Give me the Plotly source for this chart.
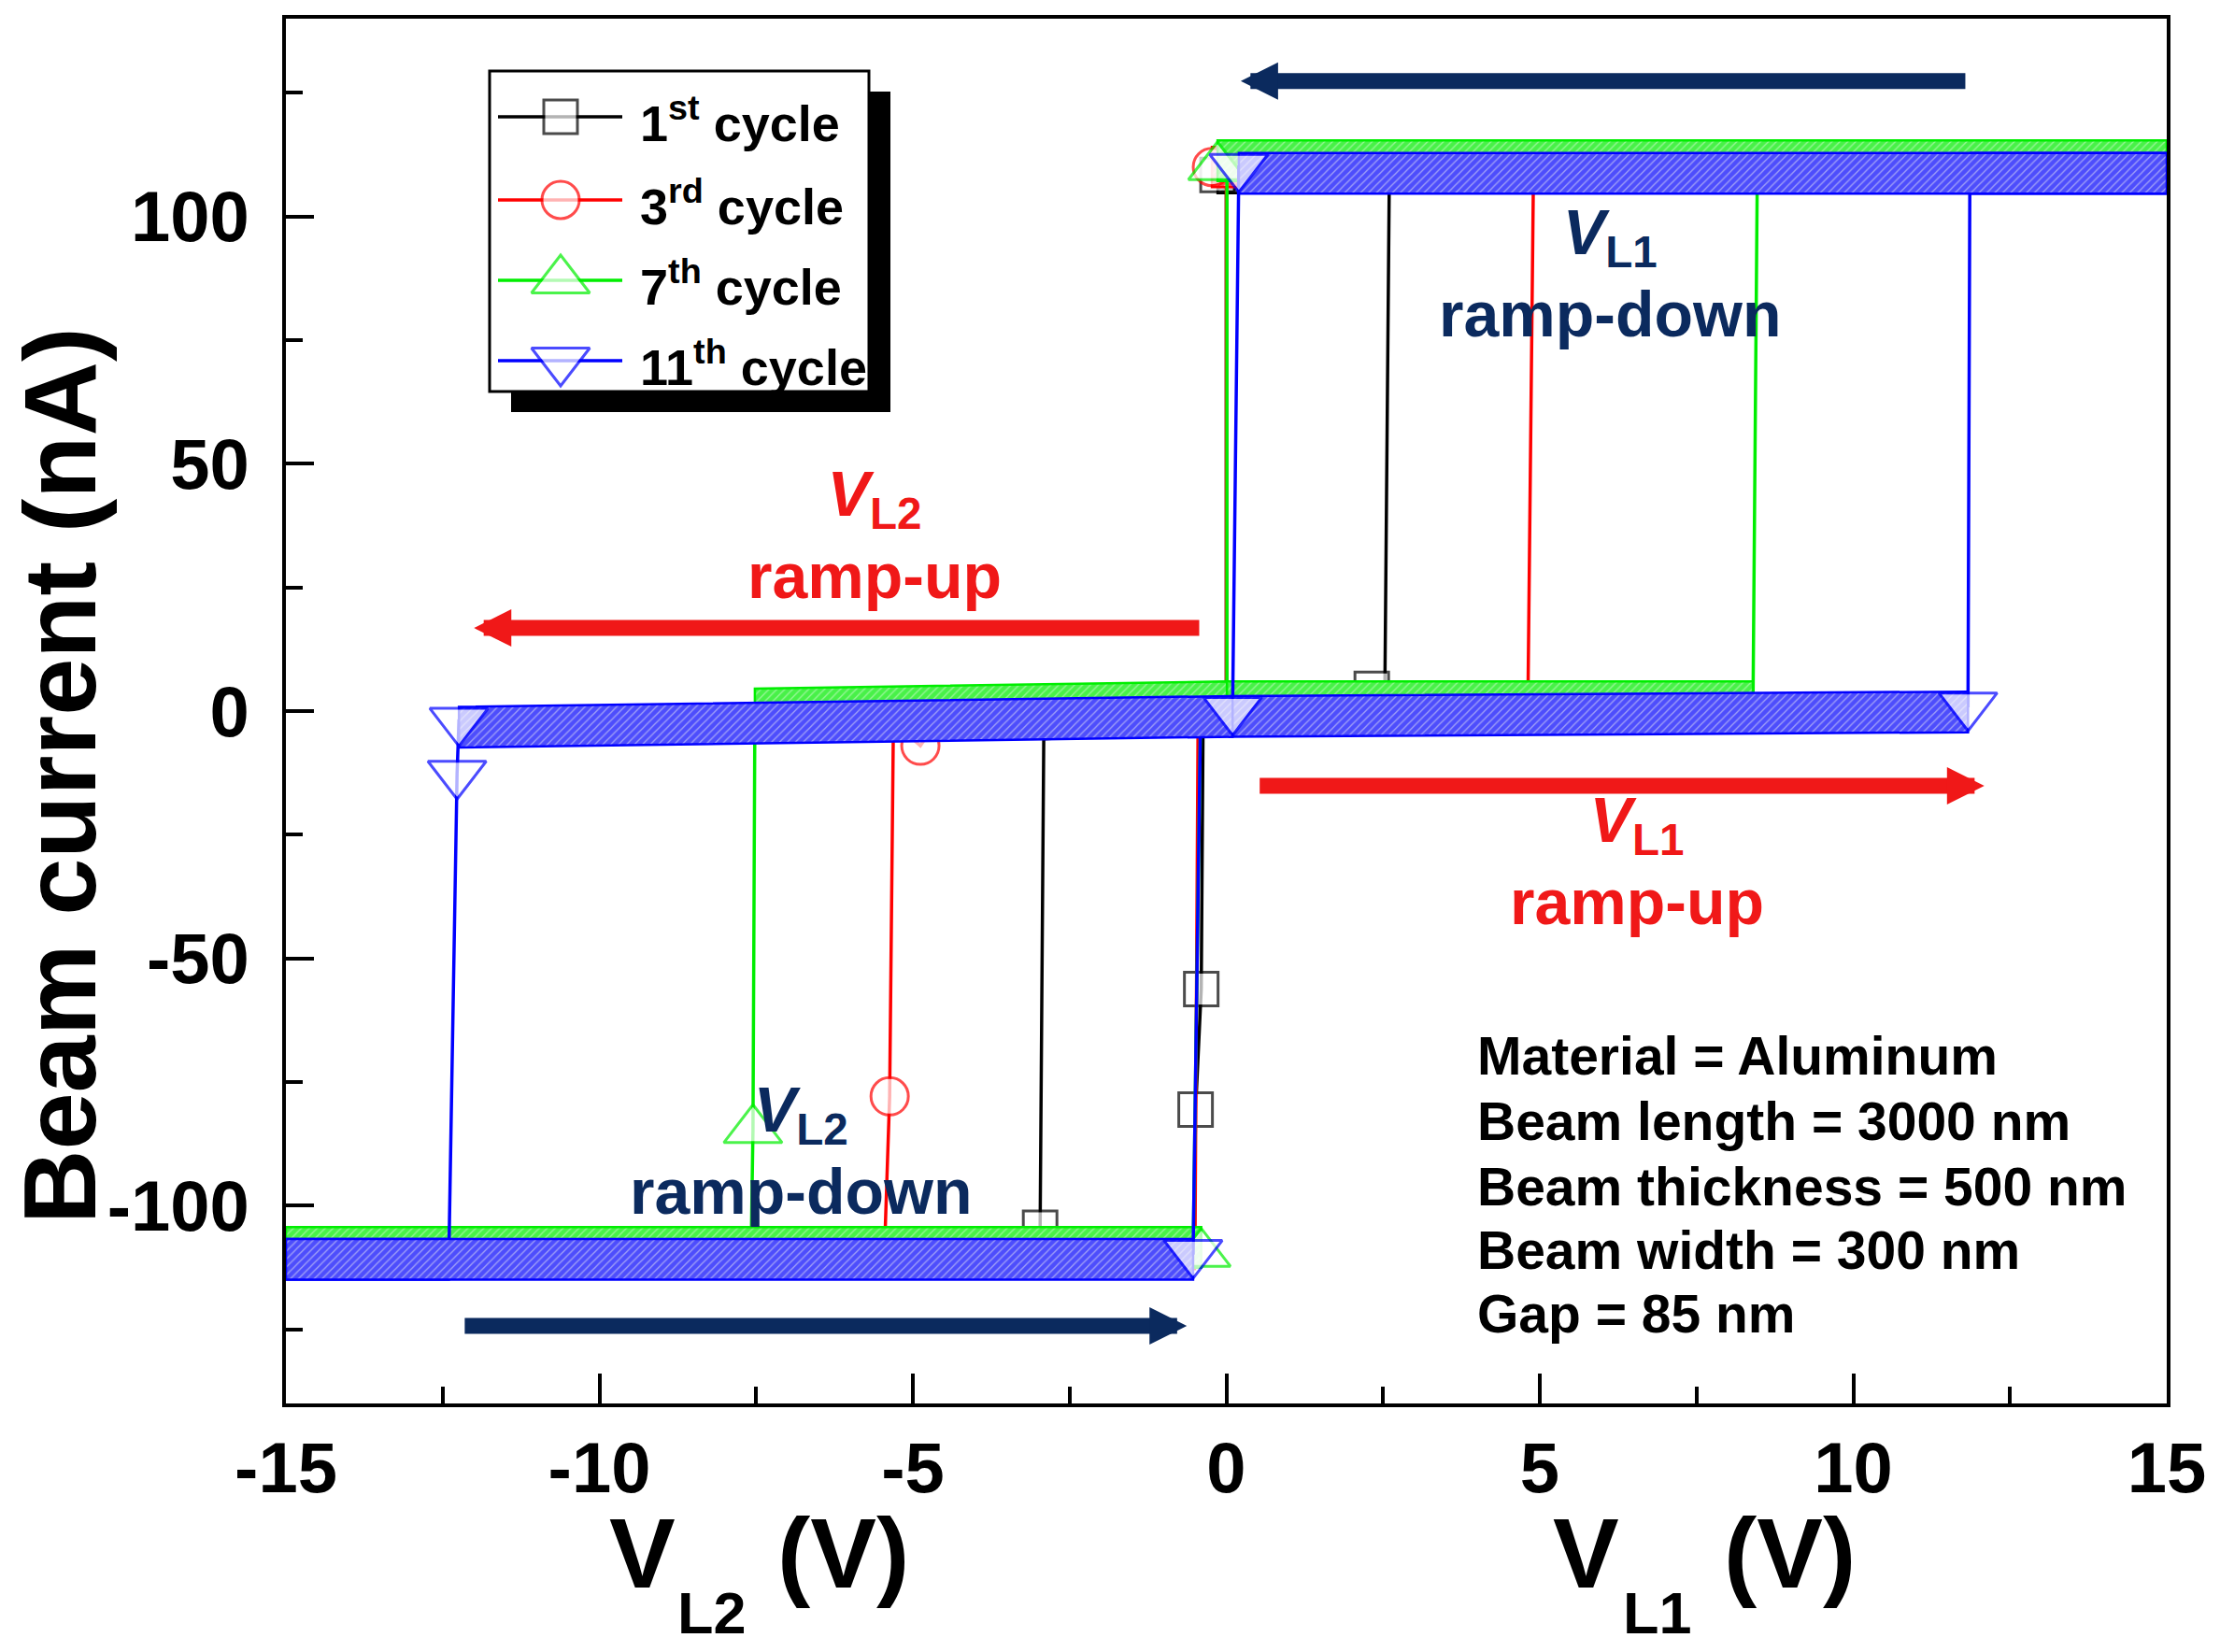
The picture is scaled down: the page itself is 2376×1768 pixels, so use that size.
import plotly.graph_objects as go

# ---------------- data ----------------
# cycle sweeps: VL1 ramp-up/down plotted at positive V, VL2 at negative V
V_C1 = [0.00, 2.10, 2.32, 2.53, 2.60, 15.00, -0.14, 0.00, 0.00, -2.91, -2.97, -3.00, -15.00, -0.52, -0.49, -0.40, -0.37]
I_C1 = [0.0, 0.5, 4.5, 6.0, 108.4, 108.4, 108.4, 108.4, 0.0, -2.0, -104.5, -108.0, -108.0, -108.3, -80.6, -56.2, -1.0]

V_C3 = [0.00, 4.81, 4.90, 15.00, -0.23, 0.00, 0.00, -4.60, -4.88, -5.31, -5.37, -5.45, -15.00, -0.50, -0.45]
I_C3 = [1.0, 1.0, 110.0, 110.0, 110.0, 110.0, 1.0, -1.8, -7.0, -2.2, -77.9, -108.5, -108.5, -108.8, -1.0]

V_C7 = [0.00, 8.40, 8.47, 15.00, -0.14, 0.01, 0.01, -7.52, -7.55, -7.58, -15.00, -0.40, -0.53, -0.41]
I_C7 = [0.6, 0.6, 110.0, 110.0, 110.0, 110.0, 0.6, -0.85, -84.7, -109.7, -109.7, -109.7, -109.7, 0.2]

V_C11 = [0.05, 11.83, 11.86, 15.00, 0.20, 0.10, -12.24, -12.27, -12.40, -15.00, -0.53, -0.41]
I_C11 = [0.2, 1.1, 110.0, 110.0, 110.0, 0.2, -2.0, -12.7, -109.6, -109.6, -109.6, 0.2]

CYCLE_LABELS = ["1<sup>st</sup> cycle", "3<sup>rd</sup> cycle", "7<sup>th</sup> cycle", "11<sup>th</sup> cycle"]

X_TICKS = [-15, -10, -5, 0, 5, 10, 15]
X_TICK_TEXT = ["-15", "-10", "-5", "0", "5", "10", "15"]
X_MINOR = [-12.5, -7.5, -2.5, 2.5, 7.5, 12.5]
Y_TICKS = [-100, -50, 0, 50, 100]
Y_TICK_TEXT = ["-100", "-50", "0", "50", "100"]
Y_MINOR = [-125, -75, -25, 25, 75, 125]

INFO_LINES = ["Material = Aluminum", "Beam length = 3000 nm", "Beam thickness = 500 nm",
              "Beam width = 300 nm", "Gap = 85 nm"]

# ---------------- style / layout constants ----------------
W, H = 2376, 1768
PL, PR, PT, PB = 306, 2319, 20, 1502
X_RANGE = [-15, 15]
Y_RANGE = [-140, 140]
PX_PER_NA = (PB - PT) / (Y_RANGE[1] - Y_RANGE[0])
FONT = "Liberation Sans, Arial, Helvetica, sans-serif"
NAVY = "#0b2a5e"
RED_TXT = "#f01818"
MLW = 3

STYLES = [
    dict(color="#000000", band_bg="#808080", symbol="square", size=36, up=18, down=18,
         marked=[2, 6, 10, 14, 15]),
    dict(color="#ff0000", band_bg="#ff9090", symbol="circle", size=40, up=20, down=20,
         marked=[4, 8, 10]),
    dict(color="#00ee00", band_bg="#90f590", symbol="triangle-up", size=54, up=27, down=13.5,
         marked=[4, 8, 11]),
    dict(color="#0000ff", band_bg="#9a9af8", symbol="triangle-down", size=54, up=13.5, down=27,
         marked=[1, 4, 5, 6, 7, 10]),
]
SERIES = [(V_C1, I_C1), (V_C3, I_C3), (V_C7, I_C7), (V_C11, I_C11)]


def px(X):
    return (X - PL) / (PR - PL)


def py(Y):
    return (PB - Y) / (PB - PT)


def band_polygons(xs, ys, up_px, down_px):
    """dense-marker bands along the horizontal sweeps (marker extent around the readings)"""
    up = (up_px + MLW / 2) / PX_PER_NA
    dn = (down_px + MLW / 2) / PX_PER_NA
    polys = []
    for i in range(len(xs) - 1):
        if abs(xs[i + 1] - xs[i]) >= 0.5:
            polys.append(([xs[i], xs[i + 1], xs[i + 1], xs[i], xs[i]],
                          [ys[i] + up, ys[i + 1] + up, ys[i + 1] - dn, ys[i] - dn, ys[i] + up]))
    return polys


fig = go.Figure()

for (xs, ys), st in zip(SERIES, STYLES):
    # sweep path (thin line)
    fig.add_trace(go.Scatter(x=xs, y=ys, mode="lines", line=dict(color=st["color"], width=3.5),
                             hoverinfo="skip", showlegend=False))
    # dense-marker bands
    for bx, by in band_polygons(xs, ys, st["up"], st["down"]):
        fig.add_trace(go.Scatter(
            x=bx, y=by, mode="lines", fill="toself", fillcolor=st["color"],
            fillpattern=dict(shape="/", fgcolor=st["color"], bgcolor=st["band_bg"], size=6, solidity=0.75),
            line=dict(color=st["color"], width=2.5), hoverinfo="skip", showlegend=False))
    # open symbols
    sizes = [st["size"] if i in st["marked"] else 0 for i in range(len(xs))]
    fig.add_trace(go.Scatter(
        x=xs, y=ys, mode="markers",
        marker=dict(symbol=st["symbol"], size=sizes, color="white",
                    line=dict(color=st["color"], width=MLW)),
        showlegend=False))

# ---------------- custom legend (pixel axes overlay) ----------------
LEG_ROWS = [125, 214, 300, 386]
for row, st, lab in zip(LEG_ROWS, STYLES, CYCLE_LABELS):
    fig.add_trace(go.Scatter(
        x=[533, 600, 666], y=[row, row, row], xaxis="x2", yaxis="y2",
        mode="lines+markers", line=dict(color=st["color"], width=3.5),
        marker=dict(symbol=st["symbol"], size=[0, st["size"], 0], color="white",
                    line=dict(color=st["color"], width=MLW)),
        showlegend=False, hoverinfo="skip"))

shapes = [
    dict(type="rect", xref="paper", yref="paper", x0=px(547), x1=px(953), y0=py(441), y1=py(98),
         fillcolor="black", line=dict(width=0), layer="below"),
    dict(type="rect", xref="paper", yref="paper", x0=px(524), x1=px(930), y0=py(419), y1=py(76),
         fillcolor="white", line=dict(color="black", width=3), layer="below"),
]

annotations = []
for row, lab in zip(LEG_ROWS, CYCLE_LABELS):
    annotations.append(dict(text=lab, xref="paper", yref="paper", x=px(683), y=py(row + 3),
                            xanchor="left", yanchor="middle", showarrow=False,
                            font=dict(family=FONT, size=54, color="black", weight="bold")))

# arrows (data coordinates)
ARROWS = [
    dict(tail=11.81, head=0.23, y=127.4, color=NAVY),
    dict(tail=-0.41, head=-12.0, y=16.8, color=RED_TXT),
    dict(tail=0.51, head=12.09, y=-15.1, color=RED_TXT),
    dict(tail=-12.17, head=-0.63, y=-124.3, color=NAVY),
]
for a in ARROWS:
    annotations.append(dict(x=a["head"], y=a["y"], ax=a["tail"], ay=a["y"],
                            xref="x", yref="y", axref="x", ayref="y", text="",
                            showarrow=True, arrowhead=2, arrowsize=0.47, arrowwidth=17,
                            arrowcolor=a["color"], standoff=0, startstandoff=0))

# direction labels (two lines each)
LABELS = [
    ("<i>V</i><sub>L2</sub><br>ramp-up", 936, 572, RED_TXT),
    ("<i>V</i><sub>L1</sub><br>ramp-down", 1723, 292, NAVY),
    ("<i>V</i><sub>L1</sub><br>ramp-up", 1752, 921, RED_TXT),
    ("<i>V</i><sub>L2</sub><br>ramp-down", 857, 1231, NAVY),
]
for txt, X, Y, col in LABELS:
    annotations.append(dict(text=txt, xref="paper", yref="paper", x=px(X), y=py(Y),
                            xanchor="center", yanchor="middle", showarrow=False, align="center",
                            font=dict(family=FONT, size=68, color=col, weight="bold")))

INFO_Y = [1130, 1200, 1270, 1338, 1406]
for txt, Y in zip(INFO_LINES, INFO_Y):
    annotations.append(dict(text=txt, xref="paper", yref="paper", x=px(1579), y=py(Y),
                            xanchor="left", yanchor="middle", showarrow=False,
                            font=dict(family=FONT, size=57, color="black", weight="bold")))

# axis titles
annotations.append(dict(text="Beam current (nA)", xref="paper", yref="paper", x=px(64), y=py(830),
                        xanchor="center", yanchor="middle", textangle=-90, showarrow=False,
                        font=dict(family=FONT, size=110, color="black", weight="bold")))
for (vx, sx, px_, sub) in [(650, 723, 830, "L2"), (1660, 1735, 1843, "L1")]:
    annotations.append(dict(text="V", xref="paper", yref="paper", x=px(vx), y=py(1662),
                            xanchor="left", yanchor="middle", showarrow=False,
                            font=dict(family=FONT, size=106, color="black", weight="bold")))
    annotations.append(dict(text=sub, xref="paper", yref="paper", x=px(sx), y=py(1726),
                            xanchor="left", yanchor="middle", showarrow=False,
                            font=dict(family=FONT, size=63, color="black", weight="bold")))
    annotations.append(dict(text="(V)", xref="paper", yref="paper", x=px(px_), y=py(1662),
                            xanchor="left", yanchor="middle", showarrow=False,
                            font=dict(family=FONT, size=106, color="black", weight="bold")))

axis_common = dict(showline=True, linecolor="black", linewidth=4, mirror=True,
                   ticks="inside", tickcolor="black", tickwidth=4,
                   showgrid=False, zeroline=False,
                   tickfont=dict(family=FONT, size=76, color="black", weight="bold"))

fig.update_layout(
    width=W, height=H,
    margin=dict(l=PL, r=W - PR, t=PT, b=H - PB, pad=0),
    paper_bgcolor="white", plot_bgcolor="white",
    showlegend=False,
    xaxis=dict(range=X_RANGE, tickmode="array", tickvals=X_TICKS, ticktext=X_TICK_TEXT,
               ticklen=32, ticklabelstandoff=0,
               minor=dict(tickmode="array", tickvals=X_MINOR, ticks="inside", ticklen=18,
                          tickwidth=4, tickcolor="black"),
               **axis_common),
    yaxis=dict(range=Y_RANGE, tickmode="array", tickvals=Y_TICKS, ticktext=Y_TICK_TEXT,
               ticklen=30, ticklabelstandoff=20,
               minor=dict(tickmode="array", tickvals=Y_MINOR, ticks="inside", ticklen=18,
                          tickwidth=4, tickcolor="black"),
               **axis_common),
    xaxis2=dict(range=[PL, PR], overlaying="x", visible=False, domain=[0, 1]),
    yaxis2=dict(range=[PB, PT], overlaying="y", visible=False, domain=[0, 1]),
    shapes=shapes,
    annotations=annotations,
)

fig.write_html("out.html", post_script="document.body.style.margin='0';",
               config={"displayModeBar": False})
